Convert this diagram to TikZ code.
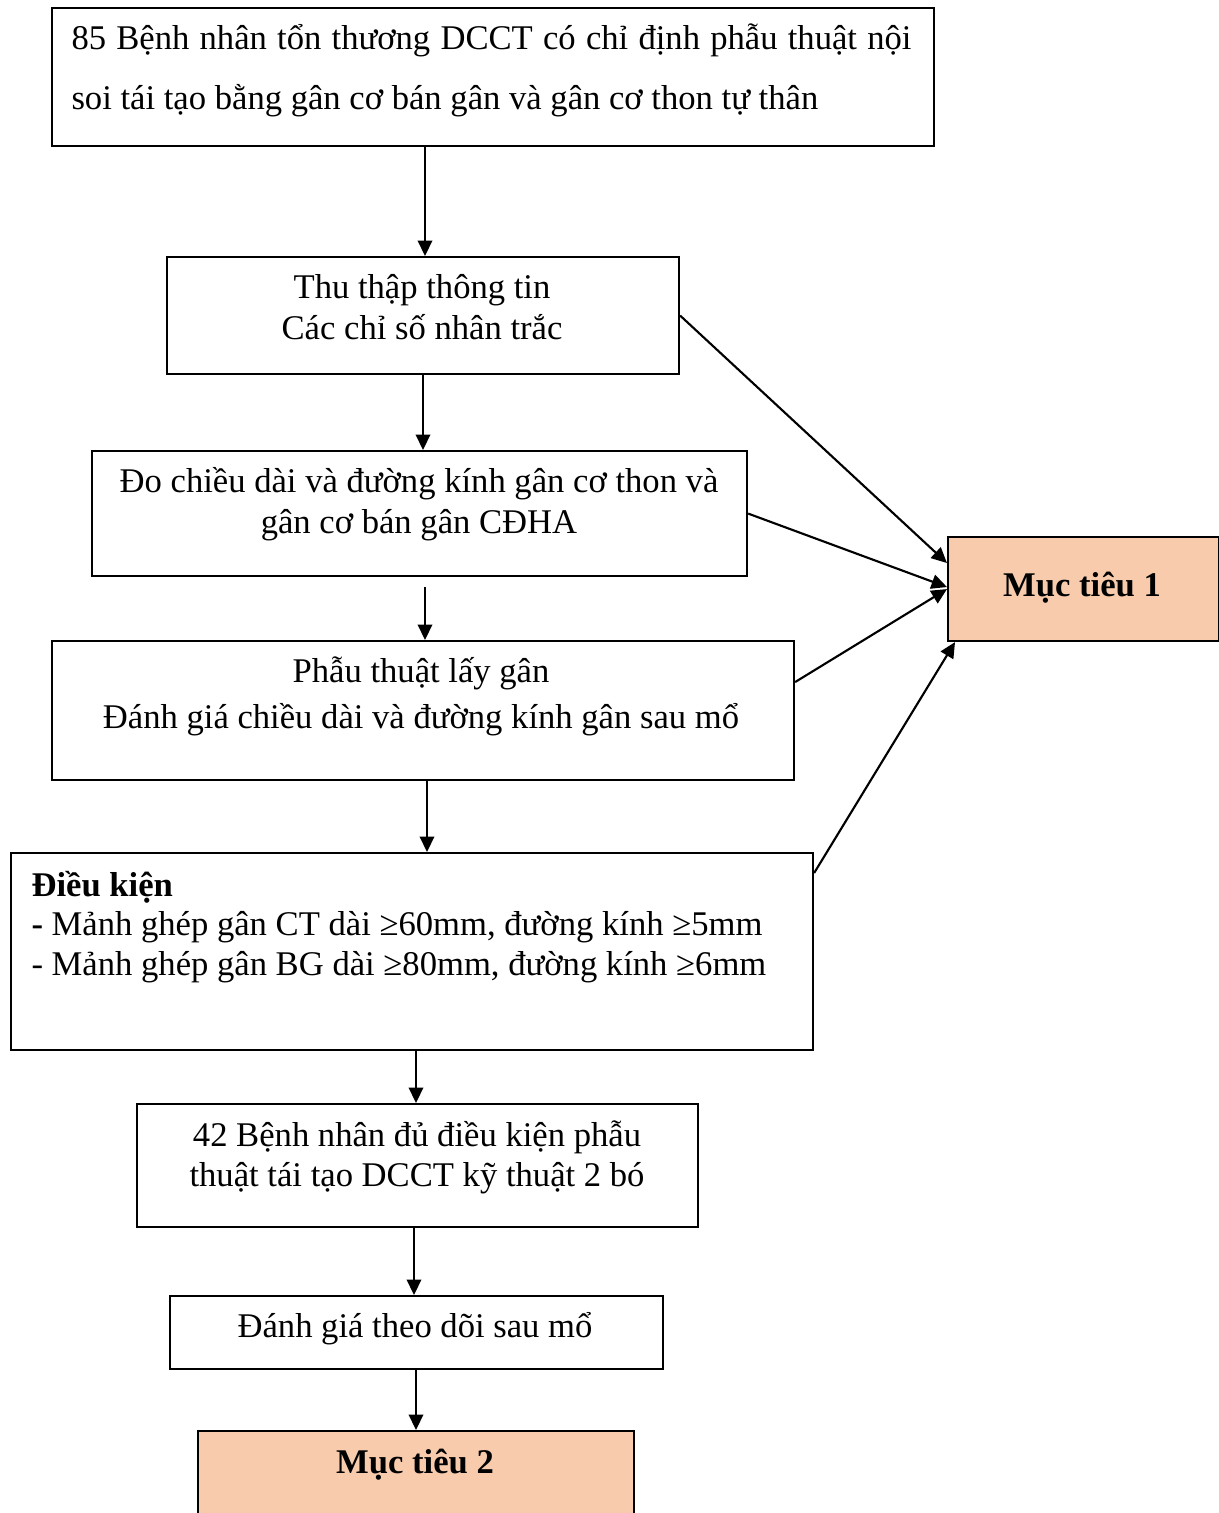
\documentclass[tikz,border=0pt]{standalone}
\usepackage{fontspec}
\setmainfont{Liberation Serif}
\usetikzlibrary{arrows.meta}
\definecolor{peach}{HTML}{F7CBAC}
\begin{document}
\begin{tikzpicture}[x=0.4pt,y=-0.4pt,
  box/.style={draw, line width=0.85pt, rectangle, inner sep=0pt, anchor=north west},
  goal/.style={box, fill=peach},
  txt/.style={inner sep=0pt, anchor=base, font=\fontsize{13.85}{16}\selectfont},
  ltxt/.style={txt, anchor=base west},
  arr/.style={line width=0.85pt, -{Triangle[length=6.2pt,width=5.8pt]}}]
\clip (0,0) rectangle (1219,1513);
% boxes
\node[box, minimum width={882*0.4pt}, minimum height={138*0.4pt}] (b1) at (51,7) {};
\node[box, minimum width={512*0.4pt}, minimum height={117*0.4pt}] (b2) at (166,256) {};
\node[box, minimum width={655*0.4pt}, minimum height={125*0.4pt}] (b3) at (91,450) {};
\node[box, minimum width={742*0.4pt}, minimum height={139*0.4pt}] (b4) at (51,640) {};
\node[box, minimum width={802*0.4pt}, minimum height={197*0.4pt}] (b5) at (10,852) {};
\node[box, minimum width={561*0.4pt}, minimum height={123*0.4pt}] (b6) at (136,1103) {};
\node[box, minimum width={493*0.4pt}, minimum height={73*0.4pt}] (b7) at (169,1295) {};
\node[goal, minimum width={436*0.4pt}, minimum height={110*0.4pt}] (b8) at (197,1430) {};
\node[goal, minimum width={271*0.4pt}, minimum height={104*0.4pt}] (mt) at (947,536) {};
% texts
\node[ltxt] (t1a) at (71,49) {\makebox[336pt][s]{85 Bệnh nhân tổn thương DCCT có chỉ định phẫu thuật nội}};
\node[ltxt] (t1b) at (71,109) {soi tái tạo bằng gân cơ bán gân và gân cơ thon tự thân};
\node[txt] (t2a) at (422,298) {Thu thập thông tin};
\node[txt] (t2b) at (422,339) {Các chỉ số nhân trắc};
\node[txt] (t3a) at (419,492) {Đo chiều dài và đường kính gân cơ thon và};
\node[txt] (t3b) at (419,533) {gân cơ bán gân CĐHA};
\node[txt] (t4a) at (421,682) {Phẫu thuật lấy gân};
\node[txt] (t4b) at (421,728) {Đánh giá chiều dài và đường kính gân sau mổ};
\node[ltxt] (t5a) at (31,896) {\bfseries Điều kiện};
\node[ltxt] (t5b) at (31,935) {{\bfseries -} Mảnh ghép gân CT dài ≥60mm, đường kính ≥5mm};
\node[ltxt] (t5c) at (31,975) {- Mảnh ghép gân BG dài ≥80mm, đường kính ≥6mm};
\node[txt] (t6a) at (417,1146) {42 Bệnh nhân đủ điều kiện phẫu};
\node[txt] (t6b) at (417,1186) {thuật tái tạo DCCT kỹ thuật 2 bó};
\node[txt] (t7) at (415,1337) {Đánh giá theo dõi sau mổ};
\node[txt, font=\fontsize{13.85}{16}\selectfont\bfseries] (t8) at (415,1473) {Mục tiêu 2};
\node[txt, font=\fontsize{13.85}{16}\selectfont\bfseries] (tm) at (1082,596) {Mục tiêu 1};
% column guides
\coordinate (c1) at (425,0);
\coordinate (c2) at (423,0);
\coordinate (c3) at (425,0);
\coordinate (c4) at (427,0);
\coordinate (c5) at (416,0);
\coordinate (c6) at (414,0);
\coordinate (c7) at (416,0);
\coordinate (g) at (425,587);
% vertical arrows
\draw[arr] (b1.south -| c1) -- (b2.north -| c1);
\draw[arr] (b2.south -| c2) -- (b3.north -| c2);
\draw[arr] (g) -- (b4.north -| c3);
\draw[arr] (b4.south -| c4) -- (b5.north -| c4);
\draw[arr] (b5.south -| c5) -- (b6.north -| c5);
\draw[arr] (b6.south -| c6) -- (b7.north -| c6);
\draw[arr] (b7.south -| c7) -- (b8.north -| c7);
% arrows to Muc tieu 1
\draw[arr] (b2.east) -- ([yshift=10.4pt]mt.west);
\draw[arr] (b3.east) -- ([yshift=0.8pt]mt.west);
\draw[arr] ([yshift=11.4pt]b4.east) -- (mt.west);
\draw[arr] ([yshift=-8.4pt]b5.north east) -- ([xshift=3.2pt]mt.south west);
\end{tikzpicture}
\end{document}
